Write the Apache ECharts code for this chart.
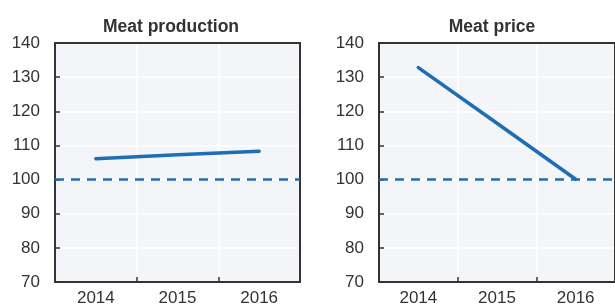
<!DOCTYPE html>
<html lang="en">
<head>
<meta charset="UTF-8">
<script src="https://cdn.jsdelivr.net/npm/echarts@6/dist/echarts.min.js"></script>
<style>
  html, body { margin: 0; padding: 0; background: #fff; }
  #main { width: 615px; height: 307px; }
</style>
</head>
<body>
<div id="main"></div>
<script>
// 数据
var years = ['2014', '2015', '2016'];
var meatProduction = [106.1, 107.3, 108.3];
var meatPrice = [132.8, 116.5, 100.1];
var baseLine = 100;
var yTicks = { min: 70, max: 140, step: 10 };

var font = '"Liberation Sans", Arial, sans-serif';
var blue = '#1f6db3';
var frame = { color: '#333', width: 2 };

var myChart = echarts.init(document.getElementById('main'));

function makeX(idx) {
  return {
    gridIndex: idx,
    type: 'category',
    data: years,
    boundaryGap: true,
    axisLine: { show: true, lineStyle: frame },
    axisTick: { show: true, inside: true, length: 5, lineStyle: { color: '#333', width: 1.5 } },
    axisLabel: { color: '#333', fontFamily: font, fontSize: 17, margin: 8 },
    splitLine: { show: true, lineStyle: { color: '#fff', width: 1.5 } }
  };
}
function makeY(idx) {
  return {
    gridIndex: idx,
    type: 'value',
    min: yTicks.min,
    max: yTicks.max,
    interval: yTicks.step,
    axisLine: { show: true, lineStyle: frame },
    axisTick: { show: true, inside: true, length: 5, lineStyle: { color: '#333', width: 1.5 } },
    axisLabel: { color: '#333', fontFamily: font, fontSize: 17, margin: 15 },
    splitLine: { show: true, lineStyle: { color: '#fff', width: 1.5 } }
  };
}
// 上边框和右边框（网格线会盖住grid的边框）
function frameX(idx) {
  return { gridIndex: idx, type: 'category', data: years, position: 'top',
    axisLine: { show: true, lineStyle: frame }, axisTick: { show: false },
    axisLabel: { show: false }, splitLine: { show: false } };
}
function frameY(idx) {
  return { gridIndex: idx, type: 'value', position: 'right',
    min: yTicks.min, max: yTicks.max, interval: yTicks.step,
    axisLine: { show: true, lineStyle: frame }, axisTick: { show: false },
    axisLabel: { show: false }, splitLine: { show: false } };
}
function makeSeries(idx, values) {
  return {
    type: 'line',
    xAxisIndex: idx,
    yAxisIndex: idx,
    data: values,
    showSymbol: false,
    silent: true,
    lineStyle: { color: blue, width: 3.5, cap: 'round' },
    markLine: {
      silent: true,
      symbol: 'none',
      label: { show: false },
      lineStyle: { color: blue, width: 2.5, type: [9, 7] },
      data: [{ yAxis: baseLine }]
    },
    z: 3
  };
}

var option = {
  animation: false,
  title: [
    { text: 'Meat production', left: 166, top: 13, textAlign: 'center',
      textStyle: { fontFamily: font, fontSize: 17.5, fontWeight: 'bold', color: '#333' } },
    { text: 'Meat price', left: 487, top: 13, textAlign: 'center',
      textStyle: { fontFamily: font, fontSize: 17.5, fontWeight: 'bold', color: '#333' } }
  ],
  grid: [
    { left: 55, top: 43, width: 245, height: 240, show: true,
      backgroundColor: '#f3f5f9', borderWidth: 0 },
    { left: 379, top: 43, width: 245, height: 240, show: true,
      backgroundColor: '#f3f5f9', borderWidth: 0 }
  ],
  xAxis: [makeX(0), makeX(1), frameX(0), frameX(1)],
  yAxis: [makeY(0), makeY(1), frameY(0), frameY(1)],
  series: [makeSeries(0, meatProduction), makeSeries(1, meatPrice)]
};
myChart.setOption(option);
</script>
</body>
</html>
